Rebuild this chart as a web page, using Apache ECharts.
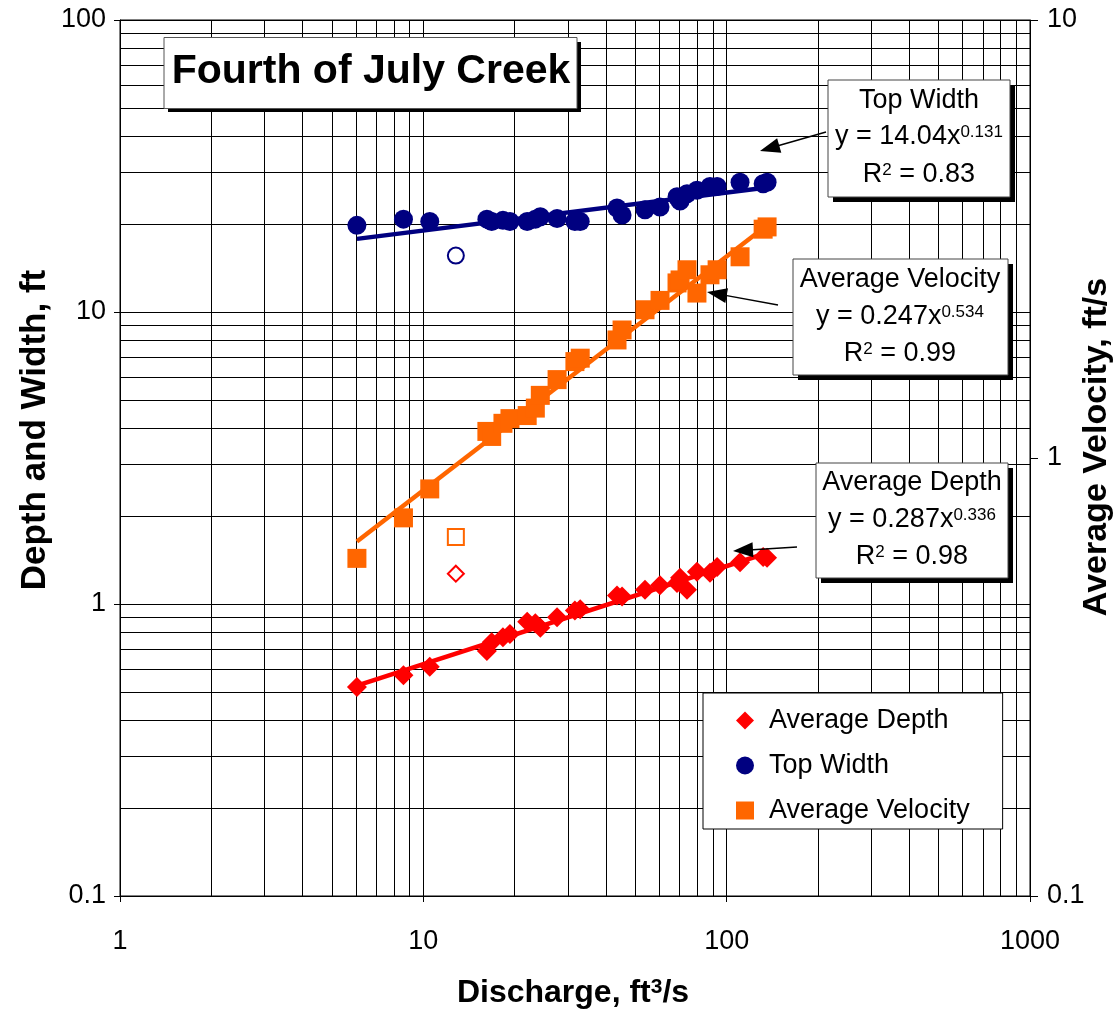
<!DOCTYPE html>
<html><head><meta charset="utf-8">
<script src="https://cdn.jsdelivr.net/npm/echarts@6/dist/echarts.min.js"></script>
<style>html,body{margin:0;padding:0;background:#fff}#c{width:1114px;height:1010px}</style>
</head><body><div id="c"></div>
<script>
// ---- data ----
const discharge   = [6.04, 8.6, 10.5, 16.2, 16.8, 18.3, 19.3, 22.0, 23.4, 24.3, 27.6, 31.6, 32.9, 43.5, 45.2, 53.8, 60.3, 68.6, 70.2, 74.0, 79.8, 88.1, 93.0, 110.7, 131.9, 135.9];
const avgDepth    = [0.52, 0.57, 0.61, 0.69, 0.74, 0.77, 0.79, 0.87, 0.86, 0.83, 0.90, 0.95, 0.96, 1.07, 1.06, 1.12, 1.16, 1.18, 1.23, 1.12, 1.29, 1.28, 1.34, 1.39, 1.45, 1.44];
const topWidth    = [19.8, 20.8, 20.4, 20.8, 20.4, 20.6, 20.4, 20.4, 20.8, 21.2, 20.9, 20.4, 20.4, 22.7, 21.5, 22.4, 22.9, 24.8, 24.0, 25.4, 26.1, 26.9, 26.9, 27.8, 27.5, 27.8];
const avgVelocity = [0.59, 0.73, 0.85, 1.15, 1.12, 1.20, 1.23, 1.25, 1.30, 1.39, 1.51, 1.66, 1.69, 1.86, 1.96, 2.18, 2.29, 2.51, 2.55, 2.69, 2.38, 2.62, 2.69, 2.88, 3.33, 3.37];
// excluded measurement (hollow markers)
const outlierDischarge = [12.8];
const outlierDepth     = [1.27];
const outlierWidth     = [15.6];
const outlierVelocity  = [0.66];
// power-law trend lines (end points)
const fitDischarge = [6.04, 135.9];
const depthFit     = [0.525, 1.495];
const widthFit     = [17.8, 26.7];
const velocityFit  = [0.645, 3.40];
// grid lines between decades
const minorX = [2,3,4,5,6,7,8,9,20,30,40,50,60,70,80,90,200,300,400,500,600,700,800,900];
const minorY = [0.2,0.3,0.4,0.5,0.6,0.7,0.8,0.9,2,3,4,5,6,7,8,9,20,30,40,50,60,70,80,90];
const seriesNames = ['Average Depth', 'Top Width', 'Average Velocity'];
const equations = [
  ['Top Width', 'y = 14.04x{s|0.131}', 'R{s|2} = 0.83'],
  ['Average Velocity', 'y = 0.247x{s|0.534}', 'R{s|2} = 0.99'],
  ['Average Depth', 'y = 0.287x{s|0.336}', 'R{s|2} = 0.98']
];

const FONT = '"Liberation Sans", Arial, sans-serif';
const RED = '#FF0000', NAVY = '#000080', ORANGE = '#FF6600';
const zip = (a, b) => a.map((v, i) => [v, b[i]]);
const fmt = v => String(Number(Number(v).toPrecision(6)));

const chart = echarts.init(document.getElementById('c'), null, {renderer: 'canvas'});

function box(x, y, w, h, lines, lineYs, cx) {
  const els = [
    {type: 'rect', shape: {x: x + 5, y: y + 5, width: w, height: h}, style: {fill: '#000'}, z: 10},
    {type: 'rect', shape: {x: x, y: y, width: w, height: h}, style: {fill: '#fff', stroke: '#444', lineWidth: 1}, z: 11}
  ];
  lines.forEach((t, i) => {
    els.push({type: 'text', x: cx, y: lineYs[i], z: 12, style: {
      text: t, align: 'center', verticalAlign: 'middle', fill: '#000',
      fontSize: 27, fontFamily: FONT,
      rich: {s: {fontSize: 17, fontFamily: FONT, verticalAlign: 'top', lineHeight: 10, fill: '#000'}}
    }});
  });
  return els;
}
function arrow(tail, tip) {
  const dx = tip[0] - tail[0], dy = tip[1] - tail[1];
  const L = Math.sqrt(dx * dx + dy * dy), ux = dx / L, uy = dy / L;
  const hl = 20, hw = 7.5;
  const bx = tip[0] - ux * hl, by = tip[1] - uy * hl;
  return [
    {type: 'line', shape: {x1: tail[0], y1: tail[1], x2: bx + ux * 4, y2: by + uy * 4}, style: {stroke: '#000', lineWidth: 1.5}, z: 12},
    {type: 'polygon', shape: {points: [tip, [bx - uy * hw, by + ux * hw], [bx + uy * hw, by - ux * hw]]}, style: {fill: '#000'}, z: 12}
  ];
}

const graphics = [].concat(
  // title
  [{type: 'rect', shape: {x: 168, y: 42, width: 413, height: 70}, style: {fill: '#000'}, z: 10},
   {type: 'rect', shape: {x: 164, y: 37.5, width: 413, height: 71}, style: {fill: '#fff', stroke: '#555', lineWidth: 1}, z: 11},
   {type: 'text', x: 371, y: 72, z: 12, style: {text: 'Fourth of July Creek', align: 'center', verticalAlign: 'middle', fill: '#000', fontSize: 41, fontWeight: 'bold', fontFamily: FONT}}],
  box(828, 80, 182, 117, equations[0], [101, 137, 175], 919),
  box(793, 259, 215, 116, equations[1], [280, 317, 354], 900),
  box(816, 463, 192, 115, equations[2], [483, 520, 557], 912),
  arrow([826, 132], [760, 151]),
  arrow([778, 305], [707, 292]),
  arrow([797, 547], [733, 551]),
  // axis titles
  [{type: 'text', x: 35, y: 430, rotation: Math.PI / 2, z: 12, style: {text: 'Depth and Width, ft', align: 'center', verticalAlign: 'middle', fill: '#000', fontSize: 35, fontWeight: 'bold', fontFamily: FONT}},
   {type: 'text', x: 1097, y: 447, rotation: Math.PI / 2, z: 12, style: {text: 'Average Velocity, ft/s', align: 'center', verticalAlign: 'middle', fill: '#000', fontSize: 34, fontWeight: 'bold', fontFamily: FONT}},
   {type: 'text', x: 573, y: 993, z: 12, style: {text: 'Discharge, ft{s|3}/s', align: 'center', verticalAlign: 'middle', fill: '#000', fontSize: 32, fontWeight: 'bold', fontFamily: FONT,
     rich: {s: {fontSize: 21, fontWeight: 'bold', fontFamily: FONT, verticalAlign: 'top', lineHeight: 11, fill: '#000'}}}}]
);

const axisLabel = {color: '#000', fontSize: 27, fontFamily: FONT, formatter: fmt};
const option = {
  animation: false,
  backgroundColor: '#fff',
  grid: {left: 120, right: 84, top: 20, bottom: 114, show: true, borderColor: '#000', borderWidth: 1, backgroundColor: '#fff'},
  xAxis: {type: 'log', logBase: 10, min: 1, max: 1000,
    axisLine: {show: true, lineStyle: {color: '#000', width: 1}},
    axisTick: {show: true, length: 6, lineStyle: {color: '#000'}},
    axisLabel: Object.assign({margin: 32}, axisLabel),
    splitLine: {show: true, lineStyle: {color: '#000', width: 1}}},
  yAxis: [
    {type: 'log', logBase: 10, min: 0.1, max: 100, position: 'left',
      axisLine: {show: true, lineStyle: {color: '#000', width: 1}},
      axisTick: {show: true, length: 6, lineStyle: {color: '#000'}},
      axisLabel: Object.assign({margin: 14}, axisLabel),
      splitLine: {show: true, lineStyle: {color: '#000', width: 1}}},
    {type: 'log', logBase: 10, min: 0.1, max: 10, position: 'right',
      axisLine: {show: true, lineStyle: {color: '#000', width: 1}},
      axisTick: {show: true, length: 8, lineStyle: {color: '#000'}},
      axisLabel: Object.assign({margin: 17}, axisLabel),
      splitLine: {show: false}}
  ],
  legend: {
    orient: 'vertical', left: 703, top: 693,
    data: [{name: seriesNames[0], icon: 'diamond'}, {name: seriesNames[1], icon: 'circle'}, {name: seriesNames[2], icon: 'rect'}],
    itemWidth: 18, itemHeight: 18, itemGap: 18,
    padding: [14, 33, 5, 33],
    backgroundColor: '#fff', borderColor: '#000', borderWidth: 1,
    textStyle: {color: '#000', fontSize: 27, fontFamily: FONT, padding: [0, 0, 0, 10]},
    selectedMode: false, z: 12
  },
  graphic: graphics,
  series: [
    {name: 'gridlines', type: 'line', data: [], silent: true, z: 1,
      markLine: {silent: true, symbol: ['none', 'none'], z: 1, animation: false,
        label: {show: false}, lineStyle: {color: '#000', width: 1, type: 'solid'},
        emphasis: {disabled: true},
        data: minorX.map(v => ({xAxis: v})).concat(minorY.map(v => ({yAxis: v})))}},
    {name: 'Top Width fit', type: 'line', data: zip(fitDischarge, widthFit), showSymbol: false, silent: true, z: 3,
      lineStyle: {color: NAVY, width: 4.5}},
    {name: 'Average Velocity fit', type: 'line', yAxisIndex: 1, data: zip(fitDischarge, velocityFit), showSymbol: false, silent: true, z: 3,
      lineStyle: {color: ORANGE, width: 4.5}},
    {name: 'Average Depth fit', type: 'line', data: zip(fitDischarge, depthFit), showSymbol: false, silent: true, z: 3,
      lineStyle: {color: RED, width: 4.5}},
    {name: seriesNames[1], type: 'scatter', data: zip(discharge, topWidth), symbol: 'circle', symbolSize: 19, z: 4,
      itemStyle: {color: NAVY, opacity: 1}},
    {name: seriesNames[2], type: 'scatter', yAxisIndex: 1, data: zip(discharge, avgVelocity), symbol: 'rect', symbolSize: 19, z: 4,
      itemStyle: {color: ORANGE, opacity: 1}},
    {name: seriesNames[0], type: 'scatter', data: zip(discharge, avgDepth), symbol: 'diamond', symbolSize: 20, z: 4,
      itemStyle: {color: RED, opacity: 1}},
    {name: 'Top Width excluded', type: 'scatter', data: zip(outlierDischarge, outlierWidth), symbol: 'circle', symbolSize: 16, z: 4,
      itemStyle: {color: '#fff', borderColor: NAVY, borderWidth: 2, opacity: 1}},
    {name: 'Average Velocity excluded', type: 'scatter', yAxisIndex: 1, data: zip(outlierDischarge, outlierVelocity), symbol: 'rect', symbolSize: 16, z: 4,
      itemStyle: {color: '#fff', borderColor: ORANGE, borderWidth: 2, opacity: 1}},
    {name: 'Average Depth excluded', type: 'scatter', data: zip(outlierDischarge, outlierDepth), symbol: 'diamond', symbolSize: 16, z: 4,
      itemStyle: {color: '#fff', borderColor: RED, borderWidth: 2, opacity: 1}}
  ]
};
chart.setOption(option);
</script>
</body></html>
